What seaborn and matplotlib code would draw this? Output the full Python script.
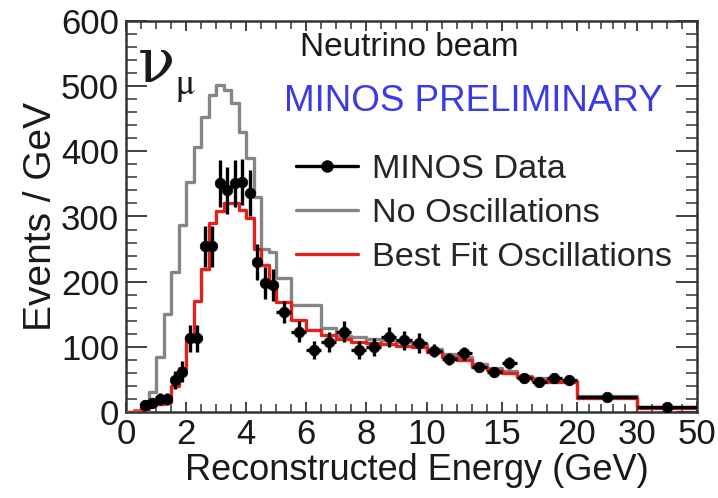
import numpy as np
import pandas as pd
import matplotlib
matplotlib.use("Agg")
import matplotlib.pyplot as plt
from matplotlib.lines import Line2D
from matplotlib.ticker import FixedLocator, NullFormatter
import seaborn as sns

# ---------------- data ----------------
bin_edges = [0, 0.25, 0.5, 0.75, 1.0, 1.25, 1.5, 1.75, 2.0, 2.25, 2.5, 2.75,
             3.0, 3.25, 3.5, 3.75, 4.0, 4.25, 4.5, 4.75, 5.0,
             5.5, 6.0, 6.5, 7.0, 7.5, 8.0, 8.5, 9.0, 9.5, 10,
             11, 12, 13, 14, 15, 16, 17, 18, 19, 20, 30, 50]

no_oscillations = [0, 3, 12, 30, 85, 150, 215, 287, 353, 407, 453, 486,
                   502, 494, 474, 430, 390, 330, 250, 245,
                   205, 164, 164, 129, 117, 115, 112, 110, 108, 105,
                   96, 89, 84, 73, 67, 63, 56, 52, 49, 48,
                   24, 8]

best_fit = [0, 0, 5, 10, 12, 15, 40, 68, 115, 170, 220, 290,
            308, 320, 320, 310, 298, 250, 225, 192,
            169, 141, 126, 118, 112, 108, 106, 104, 102, 99,
            92, 85, 80, 69, 64, 60, 53, 49, 46, 46,
            22, 6]

minos_data = [np.nan, np.nan, 11, 14, 20, 20, 49, 62, 113, 113, 254, 254,
              351, 340, 351, 353, 336, 230, 198, 195,
              153, 123, 95, 107, 123, 95, 100, 115, 110, 106,
              94, 81, 90, 69, 61, 75, 52, 46, 52, 49,
              23, 8]

minos_err = [np.nan, np.nan, 7, 8, 9, 9, 14, 16, 21, 21, 31, 31,
             36, 36, 36, 36, 35, 28, 25, 25,
             17, 16, 14, 15, 16, 14, 14, 15, 15, 15,
             10, 9, 9.5, 8, 8, 9, 7, 7, 7, 7,
             1.5, 0.8]

x_ticks = [0, 2, 4, 6, 8, 10, 15, 20, 30, 50]
y_ticks = [0, 100, 200, 300, 400, 500, 600]

# ---------------- style ----------------
sns.set_theme(style="ticks")
plt.rcParams["font.family"] = ["Liberation Sans", "DejaVu Sans"]

W, H = 718, 498
fig = plt.figure(figsize=(W / 100, H / 100), dpi=100)
ax = fig.add_axes([126 / W, 1 - 412 / H, 571 / W, 391 / H])

edges = np.array(bin_edges)
lo, hi = edges[:-1], edges[1:]
centers = (lo + hi) / 2
halfw = (hi - lo) / 2

gray_c = "#858585"
red_c = "#e3211c"

hist_df = pd.DataFrame({
    "E": np.concatenate([edges, edges]),
    "v": np.concatenate([no_oscillations + [no_oscillations[-1]],
                         best_fit + [best_fit[-1]]]),
    "model": ["No Oscillations"] * len(edges) + ["Best Fit Oscillations"] * len(edges),
})

sns.lineplot(data=hist_df[hist_df.model == "No Oscillations"], x="E", y="v",
             drawstyle="steps-post", estimator=None, errorbar=None, sort=False,
             color=gray_c, lw=2.4, ax=ax, zorder=2, legend=False)
sns.lineplot(data=hist_df[hist_df.model == "Best Fit Oscillations"], x="E", y="v",
             drawstyle="steps-post", estimator=None, errorbar=None, sort=False,
             color=red_c, lw=2.4, ax=ax, zorder=3, legend=False)

dy = np.array(minos_data, dtype=float)
de = np.array(minos_err, dtype=float)
ok = ~np.isnan(dy)
data_df = pd.DataFrame({"E": centers[ok], "N": dy[ok]})
ax.errorbar(centers[ok], dy[ok], yerr=de[ok], xerr=halfw[ok], fmt="none",
            ecolor="black", elinewidth=2.4, capsize=0, zorder=4)
sns.scatterplot(data=data_df, x="E", y="N", color="black", s=58,
                edgecolor="black", linewidth=0.5, ax=ax, zorder=5, legend=False)

# piecewise energy axis
knots_x = [0, 10, 20, 30, 50]
knots_u = [0, 10, 15, 17, 19]
ax.set_xscale("function",
              functions=(lambda x: np.interp(x, knots_x, knots_u),
                         lambda u: np.interp(u, knots_u, knots_x)))
ax.set_xlim(0, 50)
ax.set_ylim(0, 600)

ax.xaxis.set_major_locator(FixedLocator(x_ticks))
ax.set_xticklabels([str(t) for t in x_ticks])
minor_x = np.concatenate([np.arange(0, 10, 0.5), np.arange(10, 20, 1),
                          np.arange(20, 30, 2), np.arange(30, 50, 5)])
ax.xaxis.set_minor_locator(FixedLocator(minor_x))
ax.yaxis.set_major_locator(FixedLocator(y_ticks))
ax.yaxis.set_minor_locator(FixedLocator(np.arange(0, 601, 20)))
ax.xaxis.set_minor_formatter(NullFormatter())

ax.tick_params(which="both", direction="in", top=True, right=True,
               labelsize=25, colors="#333333", labelcolor="#1a1a1a")
ax.tick_params(axis="x", which="major", length=7, width=1.3, pad=4)
ax.tick_params(axis="x", which="minor", length=6, width=1.1)
ax.tick_params(axis="y", which="major", length=15, width=1.3, pad=5)
ax.tick_params(axis="y", which="minor", length=8, width=1.1)
for s in ax.spines.values():
    s.set_color("#333333")
    s.set_linewidth(1.8)

ax.set_xlabel("Reconstructed Energy (GeV)", fontsize=26, color="#1a1a1a")
ax.set_ylabel("Events / GeV", fontsize=28, color="#1a1a1a")
ax.xaxis.set_label_coords(0.51, -0.105)
ax.yaxis.set_label_coords(-0.118, 0.5)

ax.text(0.020, 0.844, "ν", transform=ax.transAxes, fontsize=44,
        family=["DejaVu Serif"],
        color="#1a1a1a", va="baseline", ha="left")
ax.text(0.088, 0.813, "μ", transform=ax.transAxes, fontsize=26,
        family=["STIXGeneral", "DejaVu Sans"],
        color="#1a1a1a", va="baseline", ha="left")
ax.text(0.305, 0.931, "Neutrino beam", transform=ax.transAxes, fontsize=24,
        color="#1a1a1a", va="center", ha="left")
ax.text(0.276, 0.795, "MINOS PRELIMINARY", transform=ax.transAxes, fontsize=26.5,
        color="#3a3ae6", va="center", ha="left")

handles = [
    Line2D([], [], color="black", lw=2.4, marker="o", markersize=8),
    Line2D([], [], color=gray_c, lw=2.4),
    Line2D([], [], color=red_c, lw=2.4),
]
labels = ["MINOS Data", "No Oscillations", "Best Fit Oscillations"]
ax.legend(handles, labels, loc="upper left", bbox_to_anchor=(0.298, 0.660),
          frameon=False, fontsize=24.7, handlelength=1.8, handletextpad=0.4,
          labelspacing=0.38, borderpad=0, borderaxespad=0)

fig.savefig("out.png", dpi=100)
